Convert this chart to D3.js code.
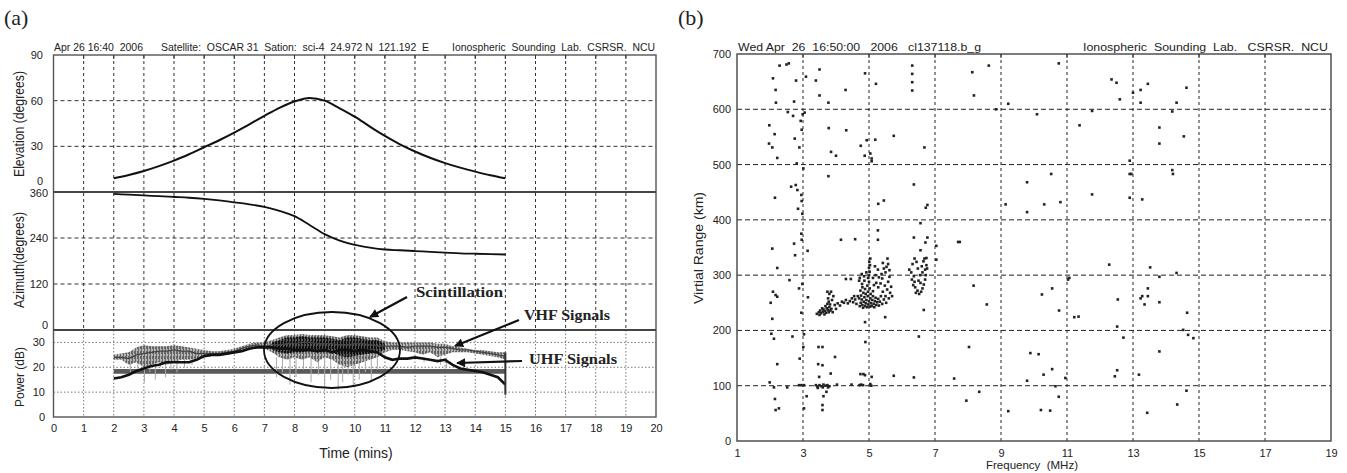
<!DOCTYPE html>
<html lang="en">
<head>
<meta charset="UTF-8">
<title>Satellite beacon and ionogram</title>
<script src="https://cdn.jsdelivr.net/npm/d3@7/dist/d3.min.js"></script>
<style>
body{margin:0;background:#fff;}
text{font-family:"Liberation Sans",Arial,sans-serif;fill:#222;}
</style>
</head>
<body>
<script>
// ---- panel (a) data ----
var minuteTicks = d3.range(0, 21);
var elevTime = [2,2.5,3,3.5,4,4.5,5,5.5,6,6.5,7,7.5,8,8.5,9,9.5,10,10.5,11,11.5,12,12.5,13,13.5,14,14.5,15];
var elevDeg  = [9,11.2,13.8,17,20.6,24.8,29.4,34,39,44.5,50,55.3,59.5,61.8,60,55,49.5,43,36.8,31.3,26.6,22.5,19,16,13.4,11,9];
var azDeg    = [355,353,351,349,347,345,342,338,333,328,321,311,297,274,250,233,222,215,210,208,206,204,202,200,199,198,197];

var powerTime = [2,2.25,2.5,2.75,3,3.25,3.5,3.75,4,4.25,4.5,4.75,5,5.25,5.5,5.75,6,6.25,6.5,6.75,7,7.25,7.5,7.75,8,8.25,8.5,8.75,9,9.25,9.5,9.75,10,10.25,10.5,10.75,11,11.25,11.5,11.75,12,12.25,12.5,12.75,13,13.25,13.5,13.75,14,14.25,14.5,14.75,15];
var vhfLow  = [23,23,21,22,20,21,22,21,22,23,23,23.5,24,24.5,24.5,25,25.5,26.5,27.5,28,27.5,26,24,23,24,23,24,22,24,23,21,20,21,22,23,24,26,27,27,26.5,26,25,26,24,25,26,26,26,25.5,25,24.5,24,23];
var vhfHigh = [25,25.5,26,28,29,28.5,28.5,28.5,29,28.5,28,27.5,27,26.5,26.5,27,27.5,28.5,29.5,30,30,31,32,33,33,33.5,33,33,33,32.5,32,33,33,32.5,32,32,30.5,30,30,30,30,30,30,29.5,29.5,28.5,28,27.5,27,27,26.5,26,26];
var vhfMid  = [24,24,23.5,25,25.5,26,26.5,26.5,27,26.5,26.5,25.5,25.5,25.5,25.5,26,26.5,27.5,28.5,29,28.5,29,29,29.5,29.5,30,30,29.5,29.5,29.5,29,29,29.5,29.5,29,28.5,28.5,28.5,28.5,28,28.5,28.5,28.5,28,28,27.5,27,27,26.5,26,25.5,25,24.5];
var uhfPower= [15.5,16,17,18.5,19.5,20.5,21,22,22,22,22,23,24.5,25,25,25.5,26,26.5,27.5,28,28,28,27.5,27.5,27,27,27,26.5,27,26,27,27,26.5,27,26.5,26,24,23,23.5,23.5,24,23.5,23,22.5,23,21,19.5,19,18.5,18,17,16,13];
// scintillation core (darker band)
var scintTime = [7.25,7.5,7.75,8,8.25,8.5,8.75,9,9.25,9.5,9.75,10,10.25,10.5,10.75,11];
var scintLow  = [27,26,25.5,26,26,26.5,26,26,26,24.5,24,24.5,25,25.5,26,27];
var scintHigh = [30,31,32,32,32.5,32,32,32,31.5,31,32,32,31.5,31,31,29.5];
// downward fades of the VHF signal
var spikeTime = [2.55,2.8,3.02,3.2,3.38,3.55,3.72,3.9,4.1,4.35,4.6,7.4,7.6,7.85,8.05,8.3,8.55,8.8,9.0,9.2,9.45,9.6,9.78,9.95,10.15,10.35,10.55,10.75,12.3,12.85,13.05,15.0];
var spikeLow  = [17,19,14,18,15,20,16,19,18,20,21,16,18,13,16,19,14,17,12,15,11,14,17,12,15,18,14,19,22,21,20,8];
var refBand = [17.4, 19.3];   // the flat 18 dB trace
var refSpan = [2, 15];

// ---- panel (b) data: [frequency MHz, virtual range km] ----
var sparsePoints = [
 [2.29,679],[2.50,681],[2.57,683],[2.09,656],[2.17,635],[2.18,612],[2.79,652],[3.09,659],[3.50,672],[3.39,652],[3.50,625],[3.77,612],
 [2.73,614],[2.54,595],[2.70,588],[2.93,579],[2.96,563],[3.05,594],[2.99,591],[4.88,665],[5.21,646],[4.29,635],
 [6.31,679],[6.31,664],[6.31,649],[6.31,634],[8.13,667],[8.18,625],[8.63,679],[8.85,600],[9.22,610],
 [1.98,571],[2.14,555],[1.97,538],[2.07,531],[2.22,512],[2.75,547],[2.89,531],[2.81,502],[3.01,493],[3.78,566],[4.31,562],
 [3.85,523],[4.0,516],[4.75,534],[4.87,516],[5.04,520],[5.08,511],[5.08,506],[4.93,544],[5.19,545],[5.75,552],[6.68,531],
 [3.77,479],[2.15,440],[2.64,460],[2.78,463],[2.83,454],[2.95,445],[2.96,434],[2.85,420],[2.98,411],[6.36,464],[5.28,429],
 [5.45,435],[6.77,427],[6.72,422],[6.56,394],[9.14,428],
 [2.07,348],[2.22,313],[2.73,357],[2.76,336],[2.95,375],[2.96,364],[3.14,344],[4.15,364],[4.58,365],[5.27,381],[5.27,364],
 [6.36,368],[6.77,368],[6.71,359],[6.56,345],[6.74,331],[7.04,353],[7.04,328],[7.70,360],[7.75,360],
 [2.59,291],[2.09,270],[2.02,250],[2.22,261],[2.17,264],[2.07,221],[2.04,194],[2.12,185],[2.68,189],[2.22,139],[2.88,276],
 [2.98,284],[2.95,232],[3.03,193],[3.15,260],[2.9,149],[3.01,170],
 [1.99,106],[2.12,97],[2.52,97],[2.15,76],[2.17,56],[2.27,59],[2.88,101],[2.95,101],[3.03,101],[3.11,81],[3.03,59],
 [3.47,170],[3.59,170],[3.46,139],[3.59,137],[3.49,116],[3.84,122],[3.97,152],
 [3.39,101],[3.44,98],[3.5,101],[3.56,99],[3.62,102],[3.68,100],[3.74,101],[3.8,99],[3.45,96],[3.6,97],[3.76,97],
 [3.71,89],[3.62,81],[3.59,65],[3.59,56],
 [4.03,102],[4.47,102],[4.71,101],[4.76,102],[4.82,101],[4.74,121],[4.83,121],[4.88,119],[5.08,116],[5.04,103],[5.07,100],
 [5.75,118],[6.36,115],[7.58,113],[8.34,89],[7.95,73],[9.22,54],[8.03,170],[4.89,179],[6.51,189],[8.17,281],[8.57,247],
 [6.66,237],[5.49,224],[4.88,215],
 [10.75,683],[10.09,591],[12.35,654],[12.50,648],[12.60,618],[13.0,630],[13.23,635],[13.45,646],[13.23,612],[14.62,639],
 [14.32,612],[14.19,596],[11.76,597],[11.38,571],[13.8,567],[13.8,538],[14.54,551],[12.9,507],[12.9,483],[12.95,483],
 [14.19,490],[14.21,483],[9.79,468],[10.52,483],[10.31,428],[10.80,432],[9.79,414],[11.76,446],[12.9,440],[13.28,437],
 [12.28,319],[13.52,314],[14.32,304],[13.8,297],[11.07,295],[11.03,292],[10.24,265],[10.55,276],[10.76,236],[11.22,224],
 [11.35,225],[12.54,256],[13.45,276],[13.45,262],[13.28,262],[13.23,258],[13.35,247],[13.8,251],[14.64,232],[12.52,207],
 [12.71,187],[14.52,201],[14.67,192],[14.83,186],[13.8,162],[9.89,159],[10.14,157],[10.55,130],[10.29,120],[9.79,109],
 [10.95,114],[10.65,99],[10.75,80],[12.52,128],[12.45,117],[13.18,120],[14.62,91],[14.34,66],[10.21,56],[10.49,55],[13.43,51]
];
var clusterLow = [
 [3.42,230],[3.48,233],[3.52,236],[3.55,231],[3.6,234],[3.62,238],[3.66,235],[3.7,232],[3.72,240],[3.75,237],[3.78,233],
 [3.8,242],[3.68,244],[3.74,248],[3.78,252],[3.83,236],[3.86,239],[3.9,233],[3.58,240],[3.65,229],[3.82,247],[3.76,258],
 [3.8,266],[3.74,270],[3.85,270],[3.92,262],[3.96,246],[4.0,239],[3.5,228],[3.88,255],
 [4.05,249],[4.12,245],[4.18,252],[4.24,250],[4.3,255],[4.36,249],[4.42,253],[4.48,258],[4.52,251],[4.58,256],[4.62,248],
 [4.66,262],[4.3,293],[4.45,293],[4.55,262]
];
var clusterMain = [
 [4.72,244],[4.75,250],[4.78,256],[4.8,246],[4.82,241],[4.84,252],[4.86,260],[4.88,244],[4.9,249],[4.92,255],[4.94,242],
 [4.96,262],[4.98,247],[5.0,253],[5.02,243],[5.04,258],[5.06,249],[5.08,244],[5.1,255],[5.12,262],[5.14,248],[5.16,242],
 [5.18,253],[5.2,259],[5.22,246],[5.25,251],[5.28,257],[5.3,245],[4.76,263],[4.83,268],[4.9,266],[4.97,270],[5.05,266],
 [5.12,271],[4.74,272],[4.8,278],[4.88,275],[4.95,281],[5.02,276],[4.7,258],[4.79,284],[4.86,290],[5.0,288],
 [5.33,252],[5.36,262],[5.4,248],[5.42,270],[5.45,256],[5.48,281],[5.5,262],[5.52,250],[5.55,274],[5.58,288],[5.6,258],
 [5.62,297],[5.64,268],[5.67,279],[5.7,262],[5.35,285],[5.4,294],[5.28,278],[5.22,286],[5.15,282],[5.5,305],[5.45,312],
 [5.58,320],[5.53,315],[5.62,309],[5.38,302],[5.3,296],[5.2,300],[5.12,295],[5.27,310],[5.18,316],[5.42,322],[5.56,330],
 [5.0,300],[5.02,306],[5.0,313],[5.03,318],[5.01,324],[5.04,330],[4.97,295],
 [4.72,295],[4.78,302],[4.85,298],[4.92,305],[4.7,290]
];
var clusterHigh = [
 [6.22,310],[6.28,305],[6.32,320],[6.36,298],[6.38,288],[6.4,278],[6.42,268],[6.47,272],[6.52,266],[6.58,270],[6.62,276],
 [6.66,283],[6.7,292],[6.72,300],[6.7,310],[6.74,318],[6.65,325],[6.6,316],[6.55,300],[6.48,312],[6.44,324],[6.38,330],
 [6.3,292],[6.5,290],[6.62,305],[6.68,330],[6.76,312],[6.34,282],[6.56,286]
];
var freqTicks = [1,3,5,7,9,11,13,15,17,19];
var rangeTicks = [0,100,200,300,400,500,600,700];

var width = 1347, height = 473;
var svg = d3.select("body").append("svg").attr("width", width).attr("height", height);
var defs = svg.append("defs");
// fine vertical hatching to give the beacon traces a noisy texture
function hatch(id, col, bg) {
  var p = defs.append("pattern").attr("id", id).attr("patternUnits", "userSpaceOnUse").attr("width", 3).attr("height", 5);
  p.append("rect").attr("width", 3).attr("height", 5).attr("fill", bg);
  p.append("rect").attr("x", 0).attr("width", 1).attr("height", 5).attr("fill", col);
  p.append("rect").attr("x", 2).attr("y", 1).attr("width", 1).attr("height", 3).attr("fill", col);
}
hatch("noiseLight", "#666", "#b5b5b5");
hatch("noiseDark", "#111", "#555");

// ===================== panel (a) =====================
var xA  = d3.scaleLinear().domain([0,20]).range([53.5,656]);
var yEl = d3.scaleLinear().domain([0,90]).range([192,55]);
var yAz = d3.scaleLinear().domain([0,360]).range([330,192]);
var yPw = d3.scaleLinear().domain([0,35]).range([417,330]);
var gA = svg.append("g");

// grids
var inner = minuteTicks.slice(1, 20);
gA.selectAll(".vg").data(inner).enter().append("line")
  .attr("x1", d => xA(d)).attr("x2", d => xA(d)).attr("y1", 55).attr("y2", 330)
  .attr("stroke", "#333").attr("stroke-dasharray", "3,3");
gA.selectAll(".hgE").data([30,60]).enter().append("line")
  .attr("x1", xA(0)).attr("x2", xA(20)).attr("y1", d => yEl(d)).attr("y2", d => yEl(d))
  .attr("stroke", "#333").attr("stroke-dasharray", "4,3");
gA.selectAll(".hgA").data([120,240]).enter().append("line")
  .attr("x1", xA(0)).attr("x2", xA(20)).attr("y1", d => yAz(d)).attr("y2", d => yAz(d))
  .attr("stroke", "#333").attr("stroke-dasharray", "4,3");
gA.selectAll(".vgP").data(inner).enter().append("line")
  .attr("x1", d => xA(d)).attr("x2", d => xA(d)).attr("y1", 330).attr("y2", 417)
  .attr("stroke", "#777").attr("stroke-dasharray", "1.5,2");
gA.selectAll(".hgP").data([10,20,30]).enter().append("line")
  .attr("x1", xA(0)).attr("x2", xA(20)).attr("y1", d => yPw(d)).attr("y2", d => yPw(d))
  .attr("stroke", "#777").attr("stroke-dasharray", "1.5,2");

// elevation & azimuth curves
var elLine = d3.line().x((d,i) => xA(elevTime[i])).y(d => yEl(d)).curve(d3.curveMonotoneX);
var azLine = d3.line().x((d,i) => xA(elevTime[i])).y(d => yAz(d)).curve(d3.curveMonotoneX);
gA.append("path").attr("d", elLine(elevDeg)).attr("fill", "none").attr("stroke", "#111").attr("stroke-width", 2);
gA.append("path").attr("d", azLine(azDeg)).attr("fill", "none").attr("stroke", "#111").attr("stroke-width", 1.8);

// power panel
var gP = gA.append("g");
gP.append("rect").attr("x", xA(refSpan[0])).attr("width", xA(refSpan[1]) - xA(refSpan[0]))
  .attr("y", yPw(refBand[1])).attr("height", yPw(refBand[0]) - yPw(refBand[1])).attr("fill", "#5a5a5a");
gP.selectAll(".spk").data(spikeTime).enter().append("line")
  .attr("x1", d => xA(d)).attr("x2", d => xA(d))
  .attr("y1", (d,i) => yPw(spikeLow[i])).attr("y2", yPw(24))
  .attr("stroke", "#aaa").attr("stroke-width", 1);
var band = d3.area().x((d,i) => xA(powerTime[i])).y0((d,i) => yPw(vhfLow[i])).y1(d => yPw(d));
gP.append("path").attr("d", band(vhfHigh)).attr("fill", "url(#noiseLight)");
var core = d3.area().x((d,i) => xA(scintTime[i])).y0((d,i) => yPw(scintLow[i])).y1(d => yPw(d));
gP.append("path").attr("d", core(scintHigh)).attr("fill", "url(#noiseDark)");
var pLine = d3.line().x((d,i) => xA(powerTime[i])).y(d => yPw(d));
gP.append("path").attr("d", pLine(vhfMid)).attr("fill", "none").attr("stroke", "#444").attr("stroke-width", 1.2);
gP.append("path").attr("d", pLine(uhfPower)).attr("fill", "none").attr("stroke", "#111").attr("stroke-width", 2.6);
gP.append("line").attr("x1", xA(15)).attr("x2", xA(15)).attr("y1", yPw(26)).attr("y2", yPw(9))
  .attr("stroke", "#333").attr("stroke-width", 2);

// frame and separators
gA.append("rect").attr("x", xA(0)).attr("y", 55).attr("width", xA(20) - xA(0)).attr("height", 417 - 55)
  .attr("fill", "none").attr("stroke", "#555").attr("stroke-width", 1.4);
gA.selectAll(".sep").data([192,330]).enter().append("line")
  .attr("x1", xA(0)).attr("x2", xA(20)).attr("y1", d => d).attr("y2", d => d)
  .attr("stroke", "#444").attr("stroke-width", 2.2);
gA.selectAll(".tt").data(inner).enter().append("line")
  .attr("x1", d => xA(d)).attr("x2", d => xA(d)).attr("y1", 55).attr("y2", 59).attr("stroke", "#333");

// axes
var axA = gA.append("g").attr("transform", "translate(0,417)")
  .call(d3.axisBottom(xA).tickValues(minuteTicks).tickSize(0).tickPadding(7).tickFormat(d3.format("d")));
axA.select(".domain").remove();
axA.selectAll("text").attr("font-size", 11).attr("fill", "#222");

function leftLabels(vals, scale, xr, fmt, shift) {
  gA.append("g").selectAll("text").data(vals).enter().append("text")
    .attr("x", xr).attr("y", d => scale(d) + (shift ? shift(d) : 0)).attr("dy", "0.35em")
    .attr("text-anchor", "end").attr("font-size", 11).text(fmt);
}
leftLabels([30,60,90], yEl, 43, d => d);
leftLabels([0], yEl, 43, d => d, () => -11);
leftLabels([0,120,240,360], yAz, 48, d => d, d => d === 0 ? -5 : (d === 360 ? 1 : 0));
leftLabels([0,10,20,30], yPw, 45, d => d);

function vlabel(txt, x, y, len, size) {
  svg.append("text").attr("transform", "translate(" + x + "," + y + ") rotate(-90)")
    .attr("text-anchor", "middle").attr("font-size", size).attr("textLength", len)
    .attr("lengthAdjust", "spacingAndGlyphs").text(txt);
}
vlabel("Elevation (degrees)", 24, 124, 106, 14);
vlabel("Azimuth(degrees)", 24, 260, 96, 14);
vlabel("Power (dB)", 24, 377, 60, 13);
svg.append("text").attr("x", 356).attr("y", 458).attr("text-anchor", "middle")
  .attr("font-size", 14).text("Time (mins)");

// header (a)
function htext(txt, x, y, len, anchor) {
  svg.append("text").attr("x", x).attr("y", y).attr("font-size", 10.5)
    .attr("text-anchor", anchor || "start")
    .attr("textLength", len).attr("lengthAdjust", "spacingAndGlyphs").attr("xml:space", "preserve").text(txt);
}
htext("Apr 26 16:40  2006", 54, 51, 89);
htext("Satellite:  OSCAR 31  Sation:  sci-4  24.972 N  121.192  E", 161, 51, 268);
htext("Ionospheric  Sounding  Lab.  CSRSR.  NCU", 452, 51, 203);

svg.append("text").attr("x", 4).attr("y", 25).attr("font-size", 22)
  .style("font-family", "'Liberation Serif','Times New Roman',serif").text("(a)");

// annotations
defs.append("marker").attr("id", "ah").attr("viewBox", "0 0 10 10").attr("refX", 9).attr("refY", 5)
  .attr("markerUnits", "userSpaceOnUse").attr("markerWidth", 11).attr("markerHeight", 9).attr("orient", "auto")
  .append("path").attr("d", "M0,0 L10,5 L0,10 z").attr("fill", "#111");
gA.append("ellipse").attr("cx", 332).attr("cy", 350).attr("rx", 68).attr("ry", 38)
  .attr("fill", "none").attr("stroke", "#111").attr("stroke-width", 1.8);
var arrows = [[407,297,370,317],[519,320,455,346],[522,361,457,363]];
gA.selectAll(".arr").data(arrows).enter().append("line")
  .attr("x1", d => d[0]).attr("y1", d => d[1]).attr("x2", d => d[2]).attr("y2", d => d[3])
  .attr("stroke", "#111").attr("stroke-width", 2.2).attr("marker-end", "url(#ah)");
var notes = [["Scintillation", 416, 297, 87], ["VHF Signals", 524, 320, 86], ["UHF Signals", 529, 364, 88]];
gA.selectAll(".note").data(notes).enter().append("text")
  .attr("x", d => d[1]).attr("y", d => d[2]).attr("textLength", d => d[3]).attr("lengthAdjust", "spacingAndGlyphs")
  .attr("font-size", 15).attr("font-weight", "bold")
  .style("font-family", "'Liberation Serif','DejaVu Serif',serif").text(d => d[0]);

// ===================== panel (b) =====================
var xB = d3.scaleLinear().domain([1,19]).range([737,1331]);
var yB = d3.scaleLinear().domain([0,700]).range([441,54]);
var gB = svg.append("g");

gB.selectAll(".vgb").data(freqTicks.slice(1, 9)).enter().append("line")
  .attr("x1", d => xB(d)).attr("x2", d => xB(d)).attr("y1", yB(700)).attr("y2", yB(0))
  .attr("stroke", "#222").attr("stroke-dasharray", "3,3");
gB.selectAll(".hgb").data(rangeTicks.slice(1, 7)).enter().append("line")
  .attr("x1", xB(1)).attr("x2", xB(19)).attr("y1", d => yB(d)).attr("y2", d => yB(d))
  .attr("stroke", "#222").attr("stroke-dasharray", "5,3");

var allPts = sparsePoints.concat(clusterLow, clusterMain, clusterHigh);
gB.selectAll(".pt").data(allPts).enter().append("rect")
  .attr("x", d => xB(d[0]) - 1.3).attr("y", d => yB(d[1]) - 1.3)
  .attr("width", 2.6).attr("height", 2.6).attr("fill", "#222");

gB.append("rect").attr("x", xB(1)).attr("y", yB(700)).attr("width", xB(19) - xB(1)).attr("height", yB(0) - yB(700))
  .attr("fill", "none").attr("stroke", "#444").attr("stroke-width", 1.4);
gB.selectAll(".ttb").data(freqTicks.slice(1, 9)).enter().append("line")
  .attr("x1", d => xB(d)).attr("x2", d => xB(d)).attr("y1", yB(700)).attr("y2", yB(700) + 4).attr("stroke", "#333");

var axB = gB.append("g").attr("transform", "translate(0," + yB(0) + ")")
  .call(d3.axisBottom(xB).tickValues(freqTicks).tickSize(0).tickPadding(8).tickFormat(d3.format("d")));
axB.select(".domain").remove();
axB.selectAll("text").attr("font-size", 11).attr("fill", "#222");
var ayB = gB.append("g").attr("transform", "translate(" + xB(1) + ",0)")
  .call(d3.axisLeft(yB).tickValues(rangeTicks).tickSize(0).tickPadding(6).tickFormat(d3.format("d")));
ayB.select(".domain").remove();
ayB.selectAll("text").attr("font-size", 11).attr("fill", "#222");

vlabel("Virtial Range  (km)", 703, 248, 112, 13);
svg.append("text").attr("x", 1032).attr("y", 469).attr("text-anchor", "middle")
  .attr("font-size", 11.5).attr("xml:space", "preserve").text("Frequency  (MHz)");
htext("Wed Apr  26  16:50:00   2006   cl137118.b_g", 738, 51, 243);
htext("Ionospheric  Sounding  Lab.   CSRSR.  NCU", 1083, 51, 245);
svg.append("text").attr("x", 678).attr("y", 25).attr("font-size", 22)
  .style("font-family", "'Liberation Serif','Times New Roman',serif").text("(b)");
</script>
</body>
</html>
